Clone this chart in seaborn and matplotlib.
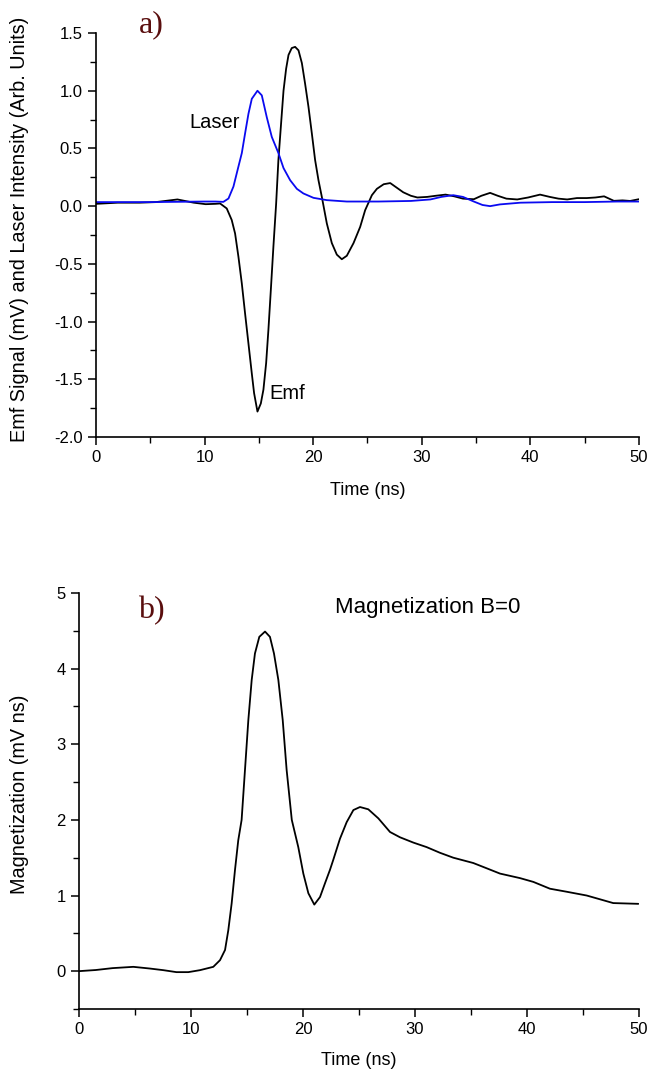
import numpy as np
import pandas as pd
import matplotlib
matplotlib.use("Agg")
import matplotlib.pyplot as plt
from matplotlib.ticker import MultipleLocator, FormatStrFormatter
import seaborn as sns

# ---- Panel a) data ----
emf_time = [0, 2, 4, 5.5, 7.5, 9, 10.1, 11.0, 11.43, 12.04, 12.5, 12.81, 13.12, 13.43, 13.73,
            14.04, 14.35, 14.56, 14.87, 15.18, 15.42, 15.67, 15.88, 16.1, 16.34, 16.59, 16.8,
            17.05, 17.27, 17.51, 17.73, 18.03, 18.34, 18.65, 18.96, 19.26, 19.57, 19.88, 20.18,
            20.49, 20.8, 21.26, 21.72, 22.18, 22.64, 23.1, 23.72, 24.33, 24.79, 25.41, 25.87,
            26.5, 27.1, 27.7, 28.3, 29.0, 29.6, 30.5, 31.3, 32.2, 33.0, 33.8, 34.8, 35.5, 36.3,
            37.0, 37.8, 38.8, 39.8, 40.9, 41.8, 42.6, 43.4, 44.3, 45.2, 46.0, 46.8, 47.7, 48.5,
            49.2, 50.0]
emf_signal = [0.02, 0.03, 0.03, 0.035, 0.058, 0.03, 0.017, 0.02, 0.023, -0.02, -0.12, -0.237,
              -0.44, -0.67, -0.93, -1.19, -1.45, -1.62, -1.78, -1.71, -1.59, -1.36, -1.07, -0.73,
              -0.35, 0.02, 0.40, 0.72, 1.0, 1.19, 1.31, 1.37, 1.38, 1.35, 1.24, 1.06, 0.86, 0.63,
              0.40, 0.225, 0.08, -0.15, -0.32, -0.42, -0.46, -0.43, -0.32, -0.18, -0.035, 0.095,
              0.15, 0.19, 0.20, 0.16, 0.12, 0.09, 0.075, 0.08, 0.09, 0.10, 0.085, 0.065, 0.06,
              0.09, 0.115, 0.09, 0.065, 0.058, 0.075, 0.10, 0.08, 0.065, 0.058, 0.07, 0.07,
              0.075, 0.085, 0.046, 0.05, 0.045, 0.06]

laser_time = [0, 5, 10, 11.0, 11.73, 12.2, 12.66, 13.03, 13.43, 13.73, 14.04, 14.35, 14.87,
              15.27, 15.73, 16.19, 16.8, 17.27, 17.88, 18.5, 19.1, 20.03, 21.26, 23.1, 26, 29,
              30.8, 31.8, 32.9, 33.8, 34.8, 35.6, 36.3, 37.2, 39.1, 42, 45, 48, 50]
laser_intensity = [0.035, 0.035, 0.04, 0.04, 0.037, 0.066, 0.17, 0.31, 0.46, 0.63, 0.80, 0.93,
                   1.0, 0.96, 0.77, 0.60, 0.46, 0.33, 0.225, 0.15, 0.11, 0.072, 0.052, 0.04,
                   0.04, 0.045, 0.058, 0.08, 0.095, 0.08, 0.04, 0.01, 0.0, 0.015, 0.03, 0.035,
                   0.035, 0.04, 0.04]

# ---- Panel b) data ----
mag_time = [0, 1.5, 3.0, 4.85, 6.3, 7.53, 8.7, 9.76, 10.8, 11.99, 12.59, 13.04, 13.33, 13.63,
            13.93, 14.22, 14.52, 14.82, 15.12, 15.42, 15.71, 16.1, 16.61, 17.05, 17.41, 17.8,
            18.19, 18.54, 19.0, 19.58, 20.03, 20.48, 21.01, 21.52, 21.96, 22.41, 22.7, 23.3,
            23.9, 24.5, 25.09, 25.83, 26.73, 27.77, 28.66, 29.85, 31.04, 32.23, 33.42, 35.2,
            36.4, 37.59, 39.38, 40.57, 42.05, 43.54, 45.33, 46.52, 47.7, 49.94]
magnetization = [0, 0.015, 0.04, 0.057, 0.035, 0.013, -0.013, -0.013, 0.013, 0.057, 0.145,
                 0.28, 0.54, 0.895, 1.34, 1.73, 2.0, 2.66, 3.32, 3.85, 4.20, 4.42, 4.49, 4.42,
                 4.20, 3.85, 3.32, 2.66, 2.0, 1.64, 1.29, 1.03, 0.88, 0.98, 1.16, 1.34, 1.47,
                 1.75, 1.97, 2.13, 2.17, 2.14, 2.02, 1.84, 1.77, 1.70, 1.64, 1.565, 1.50, 1.43,
                 1.36, 1.29, 1.23, 1.18, 1.09, 1.05, 1.0, 0.95, 0.90, 0.89]

sns.set_style("ticks")
plt.rcParams['font.family'] = ['Liberation Sans', 'DejaVu Sans']
plt.rcParams['text.color'] = 'black'
plt.rcParams['axes.labelcolor'] = 'black'

fig = plt.figure(figsize=(6.47, 10.76), dpi=100)
ax1 = fig.add_axes([0.1484, 0.5939, 0.839, 0.3754])
ax2 = fig.add_axes([0.1221, 0.0623, 0.8655, 0.3866])

df_emf = pd.DataFrame({"t": emf_time, "v": emf_signal})
df_las = pd.DataFrame({"t": laser_time, "v": laser_intensity})
df_mag = pd.DataFrame({"t": mag_time, "v": magnetization})

sns.lineplot(data=df_emf, x="t", y="v", ax=ax1, color="black", lw=1.3, estimator=None, sort=False)
sns.lineplot(data=df_las, x="t", y="v", ax=ax1, color="#0a0af0", lw=1.3, estimator=None, sort=False)
sns.lineplot(data=df_mag, x="t", y="v", ax=ax2, color="black", lw=1.3, estimator=None, sort=False)

tick_fs = 12
xlab_fs = 13
ylab_fs = 14.3

for ax in (ax1, ax2):
    sns.despine(ax=ax)
    for s in ("left", "bottom"):
        ax.spines[s].set_linewidth(1.2)
        ax.spines[s].set_color("black")
    ax.set_xlim(0, 50)
    ax.xaxis.set_major_locator(MultipleLocator(10))
    ax.xaxis.set_minor_locator(MultipleLocator(5))
    ax.tick_params(which="major", direction="out", length=6, width=1.1, labelsize=tick_fs,
                   colors="black")
    ax.tick_params(which="minor", direction="out", length=4, width=1.0, colors="black")
    ax.set_xlabel("Time (ns)", fontsize=xlab_fs)

ax1.set_ylim(-2.0, 1.5)
ax1.yaxis.set_major_locator(MultipleLocator(0.5))
ax1.yaxis.set_minor_locator(MultipleLocator(0.25))
ax1.yaxis.set_major_formatter(FormatStrFormatter("%.1f"))
ax1.set_ylabel("Emf Signal (mV) and Laser Intensity (Arb. Units)", fontsize=ylab_fs)
ax1.yaxis.set_label_coords(-0.123, 0.515)
ax1.xaxis.set_label_coords(0.5, -0.111)
ax1.text(10.97, 0.728, "Laser", fontsize=14.5, ha="center", va="center")
ax1.text(17.6, -1.62, "Emf", fontsize=14.5, ha="center", va="center")
ax1.text(0.101, 1.02, "a)", transform=ax1.transAxes, fontsize=23, ha="center", va="center",
         family="Liberation Serif", color="#5a0e0e")

ax2.set_ylim(-0.5, 5)
ax2.yaxis.set_major_locator(MultipleLocator(1))
ax2.yaxis.set_minor_locator(MultipleLocator(0.5))
ax2.set_ylabel("Magnetization (mV ns)", fontsize=ylab_fs)
ax2.yaxis.set_label_coords(-0.089, 0.517)
ax2.xaxis.set_label_coords(0.5, -0.103)
ax2.text(0.130, 0.957, "b)", transform=ax2.transAxes, fontsize=23, ha="center", va="center",
         family="Liberation Serif", color="#5a0e0e")
ax2.text(0.623, 0.966, "Magnetization B=0", transform=ax2.transAxes, fontsize=16,
         ha="center", va="center")

fig.savefig("out.png", dpi=100)
